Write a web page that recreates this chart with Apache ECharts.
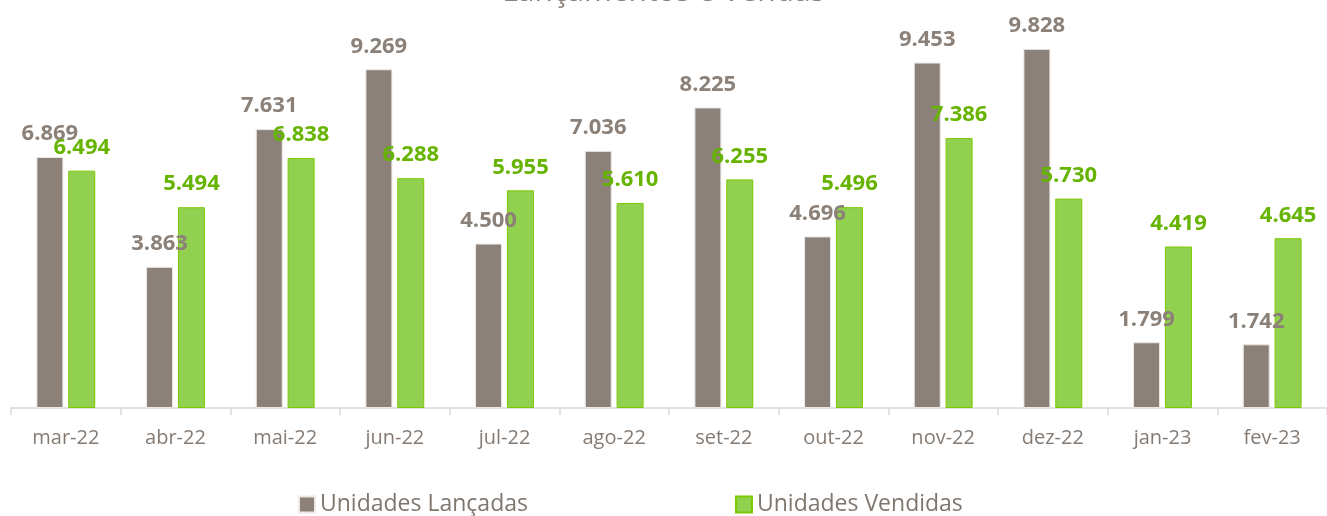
<!DOCTYPE html>
<html>
<head>
<meta charset="utf-8">
<script src="https://cdn.jsdelivr.net/npm/echarts@6/dist/echarts.min.js"></script>
<style>
  html, body { margin: 0; padding: 0; background: #fff; }
  #chart { width: 1327px; height: 516px; }
</style>
</head>
<body>
<div id="chart"></div>
<script>
// dados do gráfico
const months = ["mar-22", "abr-22", "mai-22", "jun-22", "jul-22", "ago-22",
  "set-22", "out-22", "nov-22", "dez-22", "jan-23", "fev-23"];
const lancadas = [6869, 3863, 7631, 9269, 4500, 7036, 8225, 4696, 9453, 9828, 1799, 1742];
const vendidas = [6494, 5494, 6838, 6288, 5955, 5610, 6255, 5496, 7386, 5730, 4419, 4645];

const FONT = "'Open Sans', sans-serif";

// formato brasileiro: 6869 -> 6.869
function fmt(v) {
  return (v / 1000).toFixed(3);
}

let chart = echarts.init(document.getElementById("chart"));
let option = {
  animation: false,
  title: {
    text: "Lançamentos e Vendas",
    left: "center",
    top: -28,
    textStyle: { color: "#8b8178", fontSize: 30, fontWeight: "normal", fontFamily: FONT },
  },
  legend: {
    top: 488,
    left: 293,
    itemWidth: 16,
    itemHeight: 16,
    itemGap: 207,
    icon: "rect",
    textStyle: { color: "#7f766e", fontSize: 23, fontFamily: FONT },
    data: ["Unidades Lançadas", "Unidades Vendidas"],
  },
  grid: { left: 11, top: 6, width: 1325, bottom: 108, containLabel: false },
  xAxis: {
    type: "category",
    data: months,
    axisLine: { lineStyle: { color: "#d9d9d9", width: 1.5 } },
    axisTick: { show: true, length: 7, lineStyle: { color: "#d9d9d9", width: 1.5 } },
    axisLabel: { color: "#857b73", fontSize: 20, fontFamily: FONT, margin: 20 },
  },
  yAxis: {
    type: "value",
    min: 0,
    max: 11000,
    show: false,
    splitLine: { show: false },
  },
  series: [
    {
      name: "Unidades Lançadas",
      type: "bar",
      data: lancadas,
      barWidth: 27,
      barGap: "18%",
      itemStyle: { color: "#8b8178", borderColor: "#ece9e6", borderWidth: 1 },
      label: {
        show: true,
        position: "top",
        distance: 12,
        formatter: (p) => fmt(p.value),
        color: "#8b8178",
        fontSize: 22,
        fontWeight: "bold",
        fontFamily: FONT,
      },
    },
    {
      name: "Unidades Vendidas",
      type: "bar",
      data: vendidas,
      barWidth: 27,
      itemStyle: { color: "#92d050", borderColor: "#7cc800", borderWidth: 1 },
      label: {
        show: true,
        position: "top",
        distance: 12,
        formatter: (p) => fmt(p.value),
        color: "#66b400",
        fontSize: 22,
        fontWeight: "bold",
        fontFamily: FONT,
      },
    },
  ],
};
chart.setOption(option);
</script>
</body>
</html>
